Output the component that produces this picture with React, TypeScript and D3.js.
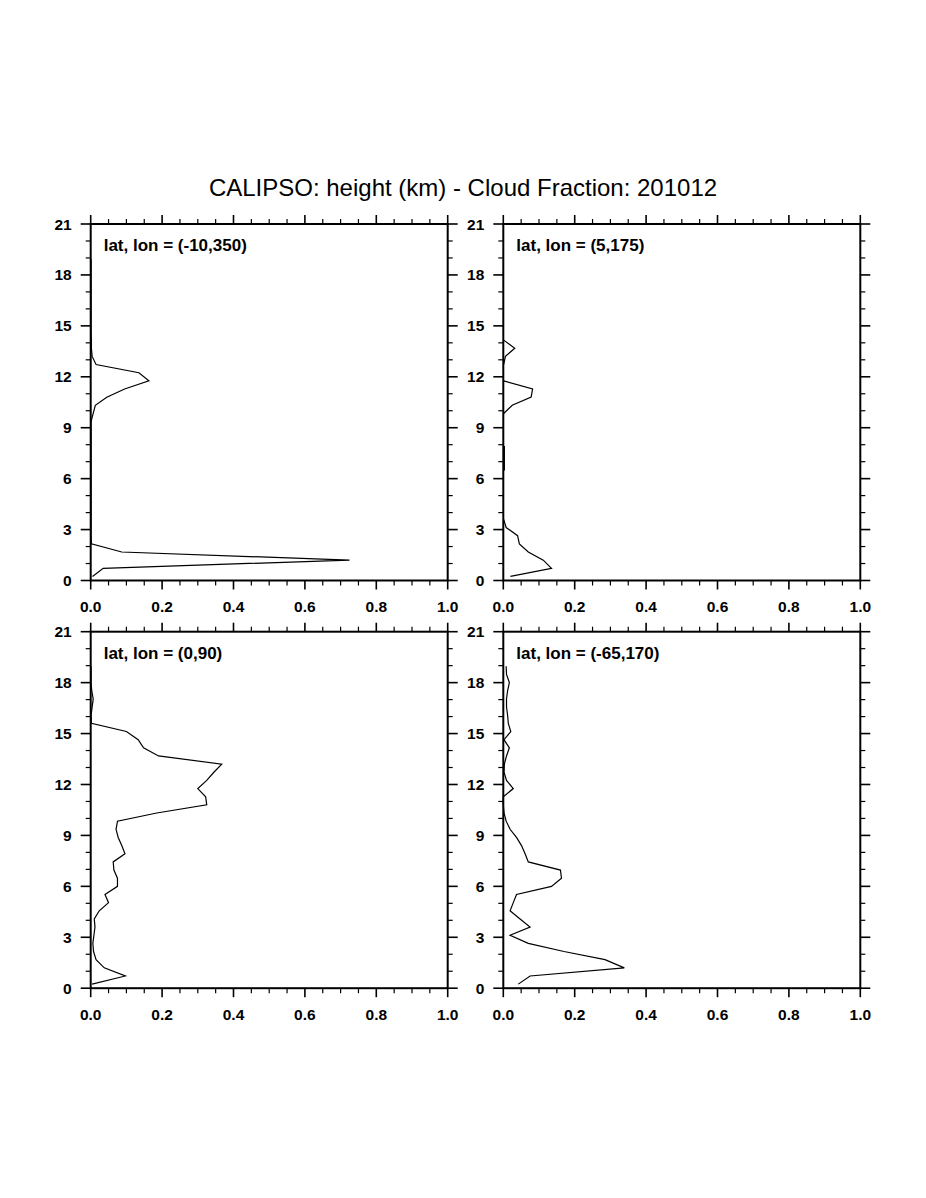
import React from "react";
import * as d3 from "d3";

// CALIPSO levels: 40 levels, 0.48 km spacing starting at 0.24 km
const heights = d3.range(40).map((i) => 0.24 + 0.48 * i);

const NA = NaN;

const frac_m10_350 = [
  0.005, 0.035, 0.725, 0.087, 0.002, 0.001, 0.001, 0.001, 0.001, 0.001,
  0.001, 0.001, 0.001, 0.001, 0.001, 0.001, 0.001, 0.001, 0.001, 0.001,
  0.007, 0.013, 0.045, 0.095, 0.163, 0.135, 0.015, 0.004, 0.002, 0.002,
  0.001, 0.001, 0.001, 0.001, 0.001, 0.001, 0.001, 0.001, 0.001, 0.001,
];

const frac_5_175 = [
  0.02, 0.135, 0.112, 0.07, 0.045, 0.04, 0.008, 0.001, NA, NA,
  NA, NA, NA, 0.003, 0.003, 0.003, 0.003, NA, NA, NA,
  0.001, 0.025, 0.078, 0.082, 0.001, NA, 0.001, 0.006, 0.032, 0.001,
  NA, NA, NA, NA, NA, NA, NA, NA, NA, NA,
];

const frac_0_90 = [
  0.004, 0.097, 0.038, 0.015, 0.008, 0.006, 0.009, 0.012, 0.01, 0.024,
  0.05, 0.04, 0.075, 0.075, 0.065, 0.063, 0.096, 0.087, 0.077, 0.071,
  0.075, 0.185, 0.325, 0.322, 0.3, 0.325, 0.345, 0.367, 0.19, 0.148,
  0.133, 0.1, 0.002, 0.001, 0.004, 0.007, 0.003, 0.001, 0.001, 0.001,
];

const frac_m65_170 = [
  0.042, 0.075, 0.339, 0.285, 0.17, 0.07, 0.019, 0.075, 0.047, 0.019,
  0.028, 0.037, 0.135, 0.163, 0.16, 0.07, 0.061, 0.051, 0.037, 0.019,
  0.008, 0.002, 0.0, 0.0, 0.028, 0.009, 0.002, 0.003, 0.009, 0.017,
  0.002, 0.021, 0.014, 0.012, 0.009, 0.009, 0.012, 0.017, 0.009, 0.008,
];

const panelLabels = [
  "lat, lon = (-10,350)",
  "lat, lon = (5,175)",
  "lat, lon = (0,90)",
  "lat, lon = (-65,170)",
];
const panelSeries = [frac_m10_350, frac_5_175, frac_0_90, frac_m65_170];

const xMajor = [0, 0.2, 0.4, 0.6, 0.8, 1.0];
const yMajor = [0, 3, 6, 9, 12, 15, 18, 21];

const title = "CALIPSO: height (km) - Cloud Fraction: 201012";

const W = 926;
const H = 1198;
const font = "'Liberation Sans', Arial, Helvetica, sans-serif";

const panelW = 357;
const panelH = 356.5;
const lefts = [90.7, 503.3];
const tops = [224, 631.7];

function Panel({ x0, y0, data, label }: { x0: number; y0: number; data: number[]; label: string }) {
  const x = d3.scaleLinear().domain([0, 1]).range([x0, x0 + panelW]);
  const y = d3.scaleLinear().domain([0, 21]).range([y0 + panelH, y0]);
  const line = d3
    .line<number>()
    .defined((d) => !isNaN(d))
    .x((d) => x(d))
    .y((d, i) => y(heights[i]));

  const xMinor = d3.range(0, 1.0001, 0.05).filter((v) => !xMajor.some((m) => Math.abs(m - v) < 1e-6));
  const yMinor = d3.range(0, 21.0001, 1).filter((v) => v % 3 !== 0);
  const bottom = y0 + panelH;
  const right = x0 + panelW;

  return (
    <g>
      <path d={line(data) || ""} fill="none" stroke="#000" strokeWidth={1.2} />
      {/* ticks on all four sides, pointing out */}
      <g stroke="#000">
        {xMajor.map((v) => (
          <g key={"xm" + v} strokeWidth={1.6}>
            <line x1={x(v)} x2={x(v)} y1={bottom} y2={bottom + 9} />
            <line x1={x(v)} x2={x(v)} y1={y0} y2={y0 - 9} />
          </g>
        ))}
        {xMinor.map((v) => (
          <g key={"xn" + v} strokeWidth={1.2}>
            <line x1={x(v)} x2={x(v)} y1={bottom} y2={bottom + 5} />
            <line x1={x(v)} x2={x(v)} y1={y0} y2={y0 - 5} />
          </g>
        ))}
        {yMajor.map((v) => (
          <g key={"ym" + v} strokeWidth={1.6}>
            <line x1={x0} x2={x0 - 10} y1={y(v)} y2={y(v)} />
            <line x1={right} x2={right + 10} y1={y(v)} y2={y(v)} />
          </g>
        ))}
        {yMinor.map((v) => (
          <g key={"yn" + v} strokeWidth={1.2}>
            <line x1={x0} x2={x0 - 5} y1={y(v)} y2={y(v)} />
            <line x1={right} x2={right + 5} y1={y(v)} y2={y(v)} />
          </g>
        ))}
      </g>
      <rect x={x0} y={y0} width={panelW} height={panelH} fill="none" stroke="#000" strokeWidth={2} />
      <g fontFamily={font} fontSize={15.5} fontWeight="bold" fill="#000">
        {xMajor.map((v) => (
          <text key={"xl" + v} x={x(v)} y={bottom + 31.5} textAnchor="middle">
            {d3.format(".1f")(v)}
          </text>
        ))}
        {yMajor.map((v) => (
          <text key={"yl" + v} x={x0 - 19} y={y(v) + 5.5} textAnchor="end">
            {v}
          </text>
        ))}
      </g>
      <text x={x0 + 13} y={y0 + 27} fontFamily={font} fontSize={17} fontWeight="bold" fill="#000">
        {label}
      </text>
    </g>
  );
}

export default function App() {
  return (
    <svg width={W} height={H} style={{ display: "block", position: "absolute", left: 0, top: 0, background: "#fff" }}>
      <rect width={W} height={H} fill="#fff" />
      <text x={463} y={196} textAnchor="middle" fontFamily={font} fontSize={24} fill="#000">
        {title}
      </text>
      {panelSeries.map((s, i) => (
        <Panel key={i} x0={lefts[i % 2]} y0={tops[Math.floor(i / 2)]} data={s} label={panelLabels[i]} />
      ))}
    </svg>
  );
}
